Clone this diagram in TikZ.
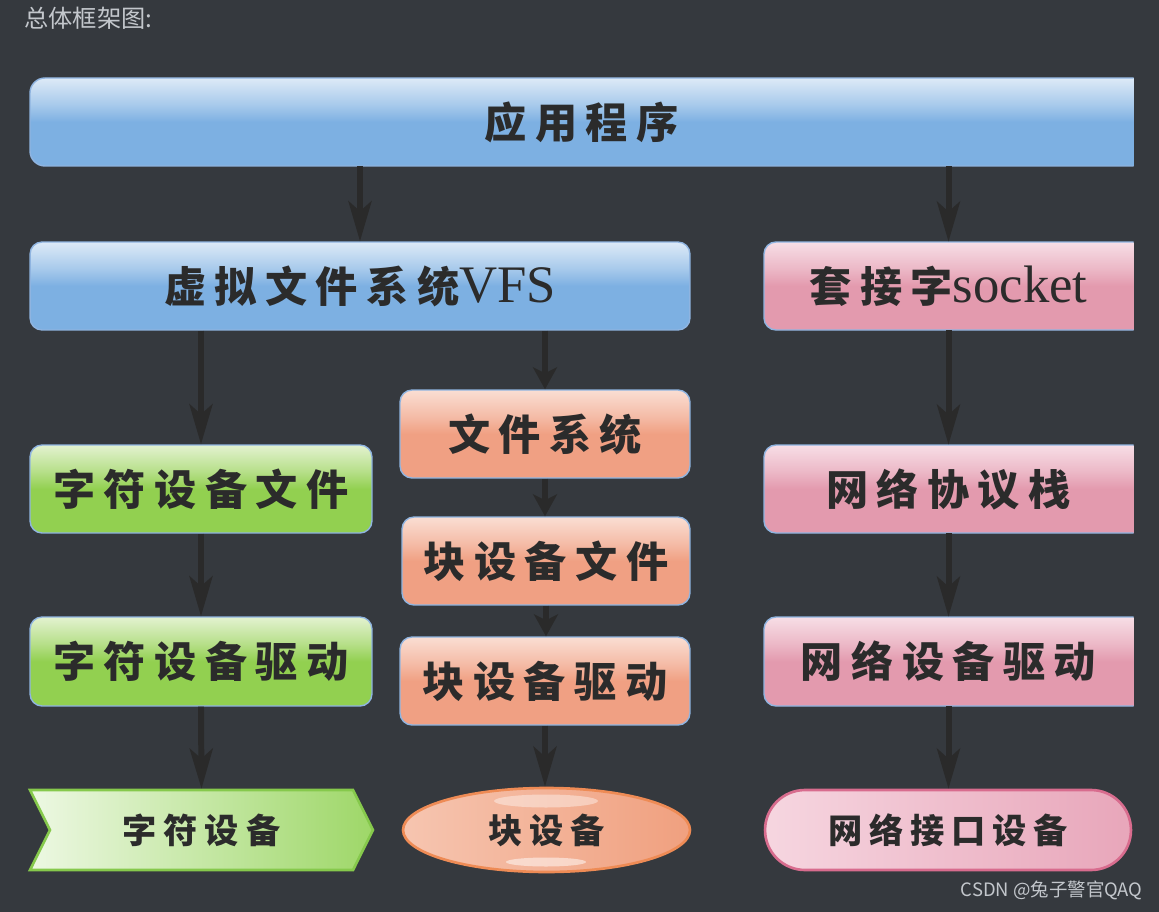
\documentclass[tikz,border=0pt]{standalone}
\usepackage{fontspec}
\usetikzlibrary{positioning,arrows.meta,shapes.symbols,shapes.misc,shapes.geometric}

\newfontfamily\cjkfont{Noto Sans CJK SC}
\newfontfamily\boxfont[LetterSpace=20]{Noto Sans CJK SC}
\newfontfamily\seriffont{Liberation Serif}
\newcommand\latin{\seriffont\mdseries\fontsize{30pt}{31pt}\selectfont}

\definecolor{bgdark}{HTML}{35393E}
\definecolor{arrowc}{HTML}{2A2A2A}
\definecolor{labelc}{HTML}{2B2B2B}
\definecolor{greytext}{HTML}{C3C7CC}
\definecolor{edgeblue}{HTML}{8FB4E0}
\definecolor{bluebase}{HTML}{7DB0E2}
\definecolor{bluetop}{HTML}{DDEAF7}
\definecolor{pinkbase}{HTML}{E39AAE}
\definecolor{pinktop}{HTML}{F7DEE6}
\definecolor{orangebase}{HTML}{F0A083}
\definecolor{orangetop}{HTML}{FADED3}
\definecolor{greenbase}{HTML}{92D050}
\definecolor{greentop}{HTML}{E3F2D0}
\colorlet{bluemid}{bluebase!55!bluetop}
\colorlet{pinkmid}{pinkbase!55!pinktop}
\colorlet{orangemid}{orangebase!55!orangetop}
\colorlet{greenmid}{greenbase!55!greentop}

% glossy fills: light top, flat lower half
\pgfdeclareverticalshading{glossblue}{100bp}{color(0bp)=(bluebase); color(50bp)=(bluebase); color(60bp)=(bluemid); color(75bp)=(bluetop); color(100bp)=(bluetop)}
\pgfdeclareverticalshading{glosspink}{100bp}{color(0bp)=(pinkbase); color(50bp)=(pinkbase); color(60bp)=(pinkmid); color(75bp)=(pinktop); color(100bp)=(pinktop)}
\pgfdeclareverticalshading{glossorange}{100bp}{color(0bp)=(orangebase); color(50bp)=(orangebase); color(60bp)=(orangemid); color(75bp)=(orangetop); color(100bp)=(orangetop)}
\pgfdeclareverticalshading{glossgreen}{100bp}{color(0bp)=(greenbase); color(50bp)=(greenbase); color(60bp)=(greenmid); color(75bp)=(greentop); color(100bp)=(greentop)}

\tikzset{
  boxlabel/.style={text=labelc, inner sep=0pt, minimum height=1.76cm,
    font=\boxfont\bfseries\fontsize{24pt}{26pt}\selectfont},
  gbox/.style={boxlabel, draw=edgeblue, line width=0.8pt, rounded corners=0.24cm},
  bluebox/.style={gbox, shading=glossblue},
  orangebox/.style={gbox, shading=glossorange},
  greenbox/.style={gbox, shading=glossgreen},
  endlabel/.style={text=labelc, inner sep=0pt, line width=1.5pt,
    font=\boxfont\bfseries\fontsize{19.5pt}{21pt}\selectfont},
  flow/.style={draw=arrowc, line width=3.4pt,
    -{Stealth[length=8mm, width=4.6mm, inset=2mm]}},
  shortflow/.style={flow, -{Stealth[length=4.4mm, width=4.8mm, inset=1.2mm]}},
  greytag/.style={text=greytext, inner sep=0pt}
}

\begin{document}
\begin{tikzpicture}[x=0.02cm, y=-0.02cm]
  % background
  \fill[bgdark] (0,0) rectangle (1159,912);
  \useasboundingbox (0,0) rectangle (1159,912);

  \node[greytag, anchor=west, font=\cjkfont\fontsize{13.8pt}{15pt}\selectfont] (title) at (24,18) {总体框架图:};

  % boxes cut off at the right edge
  \begin{scope}
    \clip (0,0) rectangle (1133.5,912);
    \shadedraw[shading=glossblue, draw=edgeblue, line width=0.8pt, rounded corners=0.3cm] (30,78) rectangle (1170,166);
    \shadedraw[shading=glosspink, draw=edgeblue, line width=0.8pt, rounded corners=0.24cm] (764,242) rectangle (1170,330);
    \shadedraw[shading=glosspink, draw=edgeblue, line width=0.8pt, rounded corners=0.24cm] (764,445) rectangle (1170,533);
    \shadedraw[shading=glosspink, draw=edgeblue, line width=0.8pt, rounded corners=0.24cm] (764,617) rectangle (1170,706);
  \end{scope}
  \node[boxlabel, minimum width=22.06cm] (app) at (581.5,122) {应用程序};
  \node[boxlabel, minimum width=7.38cm] (sock) at (948.5,286) {套接字{\latin socket}};
  \node[boxlabel, minimum width=7.38cm] (netstack) at (948.5,489) {网络协议栈};
  \node[boxlabel, minimum width=7.38cm, minimum height=1.78cm] (netdrv) at (948.5,661.5) {网络设备驱动};

  % left and middle columns
  \node[bluebox, minimum width=13.2cm] (vfs) at (360,286) {虚拟文件系统{\latin VFS}};
  \node[orangebox, minimum width=5.8cm] (fs) at (545,434) {文件系统};
  \node[orangebox, minimum width=5.76cm] (blkfile) at (546,561) {块设备文件};
  \node[orangebox, minimum width=5.8cm] (blkdrv) at (545,681) {块设备驱动};
  \node[greenbox, minimum width=6.84cm] (chrfile) at (201,489) {字符设备文件};
  \node[greenbox, minimum width=6.84cm, minimum height=1.78cm] (chrdrv) at (201,661.5) {字符设备驱动};

  % device row
  \node[endlabel, signal, signal from=west, signal to=east, signal pointer angle=127,
    minimum width=6.86cm, minimum height=1.6cm, draw={rgb,255:red,134;green,201;blue,76},
    left color={rgb,255:red,237;green,248;blue,227}, right color={rgb,255:red,158;green,215;blue,104}]
    (chrdev) at (201.5,830) {字符设备};
  \node[endlabel, ellipse, minimum width=5.74cm, minimum height=1.68cm,
    draw={rgb,255:red,238;green,139;blue,85},
    left color={rgb,255:red,246;green,197;blue,176}, right color={rgb,255:red,240;green,160;blue,127}]
    (blkdev) at (546.5,830) {块设备};
  \fill[white, opacity=0.4] (546,801) ellipse (52 and 6.5);
  \fill[white, opacity=0.5] (546,862) ellipse (40 and 4.5);
  \node[endlabel, rounded rectangle, minimum width=7.32cm, minimum height=1.6cm,
    draw={rgb,255:red,216;green,108;blue,142},
    left color={rgb,255:red,246;green,214;blue,224}, right color={rgb,255:red,232;green,166;blue,186}]
    (netdev) at (948,830) {网络接口设备};

  % arrows
  \draw[flow] (app.south -| vfs.north) -- (vfs.north);
  \draw[flow] (app.south -| sock.north) -- (sock.north);
  \draw[flow] (vfs.south -| chrfile.north) -- (chrfile.north);
  \draw[shortflow] (vfs.south -| fs.north) -- (fs.north);
  \draw[flow] (chrfile.south) -- (chrdrv.north);
  \draw[flow] (chrdrv.south) -- (chrdev.north);
  \draw[shortflow] (fs.south) -- (fs.south |- blkfile.north);
  \draw[shortflow] (blkfile.south) -- (blkfile.south |- blkdrv.north);
  \draw[flow] (blkdrv.south) -- (blkdrv.south |- blkdev.north);
  \draw[flow] (sock.south) -- (netstack.north);
  \draw[flow] (netstack.south) -- (netdrv.north);
  \draw[flow] (netdrv.south) -- (netdrv.south |- netdev.north);

  \node[greytag, anchor=east, font=\cjkfont\fontsize{10.5pt}{12pt}\selectfont] (mark) at (1143,890) {CSDN @兔子警官QAQ};
\end{tikzpicture}
\end{document}
